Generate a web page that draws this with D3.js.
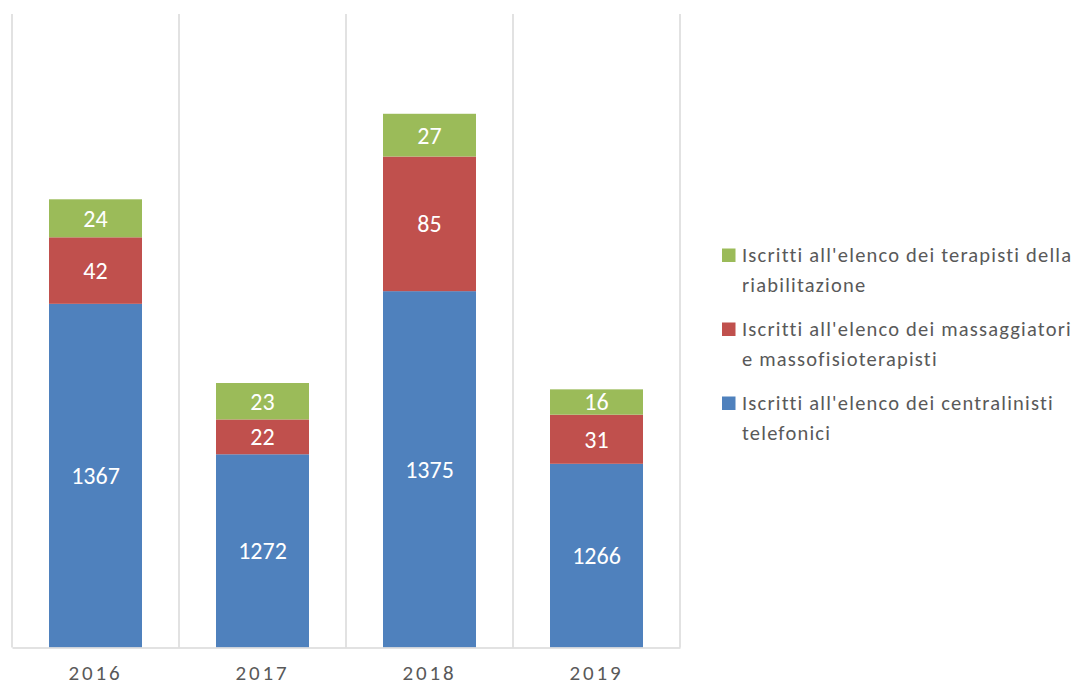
<!DOCTYPE html>
<html><head><meta charset="utf-8">
<script src="https://cdn.jsdelivr.net/npm/d3@7"></script>
<style>body{margin:0;background:#fff;} svg{display:block;}</style>
</head><body>
<svg id="c" width="1078" height="684"></svg>
<script>
const years = ["2016","2017","2018","2019"];
const centralinisti = [1367,1272,1375,1266];
const massaggiatori = [42,22,85,31];
const terapisti = [24,23,27,16];
const legendLines = [["Iscritti all'elenco dei centralinisti","telefonici"],["Iscritti all'elenco dei massaggiatori","e massofisioterapisti"],["Iscritti all'elenco dei terapisti della","riabilitazione"]];
const colors = ["#4F81BD","#C0504D","#9BBB59"];
const yDomain = [1150,1550];

(function(){
const svg = d3.select("#c");
const pL=12, pR=680, pT=14, pB=647.5;
const x = d3.scaleBand().domain(years).range([pL,pR]).paddingInner(0).paddingOuter(0);
const y = d3.scaleLinear().domain(yDomain).range([pB,pT]);
const barW = 93;
const font = "Carlito, Calibri, 'Open Sans', sans-serif";

const grid = d3.range(years.length+1).map(i=>pL + i*x.step());
svg.selectAll("line.g").data(grid).enter().append("line")
  .attr("x1",d=>d).attr("x2",d=>d).attr("y1",pT).attr("y2",pB)
  .attr("stroke","#d9d9d9").attr("stroke-width",1.5);

const data = years.map((yr,i)=>({year:yr, s0:centralinisti[i], s1:massaggiatori[i], s2:terapisti[i]}));
const stack = d3.stack().keys(["s0","s1","s2"])(data);

stack.forEach((layer,li)=>{
  const g = svg.append("g");
  g.selectAll("rect").data(layer).enter().append("rect")
    .attr("x",d=>x(d.data.year)+(x.bandwidth()-barW)/2)
    .attr("width",barW)
    .attr("y",d=>y(d[1]))
    .attr("height",d=>y(Math.max(d[0],yDomain[0]))-y(d[1]))
    .attr("fill",colors[li]);
  g.selectAll("text").data(layer).enter().append("text")
    .attr("x",d=>x(d.data.year)+x.bandwidth()/2)
    .attr("y",d=>(y(Math.max(d[0],yDomain[0]))+y(d[1]))/2)
    .attr("dy","0.35em")
    .attr("text-anchor","middle")
    .attr("font-family",font)
    .attr("font-size",24)
    .attr("fill","#fff")
    .text(d=>d[1]-d[0]);
});

const xAxis = d3.axisBottom(x).tickSize(0).tickPadding(0);
const ax = svg.append("g").attr("transform",`translate(0,${pB})`).call(xAxis);
ax.select(".domain").attr("stroke","#d9d9d9").attr("stroke-width",1.5);
ax.selectAll("text").attr("font-family",font).attr("font-size",21)
  .attr("fill","#595959").attr("letter-spacing","2.8px").attr("y",32).attr("dy",0);

const legBase = [262,336,410];
const order = [2,1,0];
order.forEach((si,k)=>{
  const g = svg.append("g").attr("transform",`translate(722,${legBase[k]})`);
  g.append("rect").attr("x",0).attr("y",-13.5).attr("width",13.5).attr("height",13.5).attr("fill",colors[si]);
  const t = g.append("text").attr("font-family",font).attr("font-size",20.5)
    .attr("letter-spacing","1.2px").attr("fill","#595959");
  legendLines[si].forEach((ln,j)=>{
    t.append("tspan").attr("x",20).attr("y",j*29.5).text(ln);
  });
});
})();
</script>
</body></html>
